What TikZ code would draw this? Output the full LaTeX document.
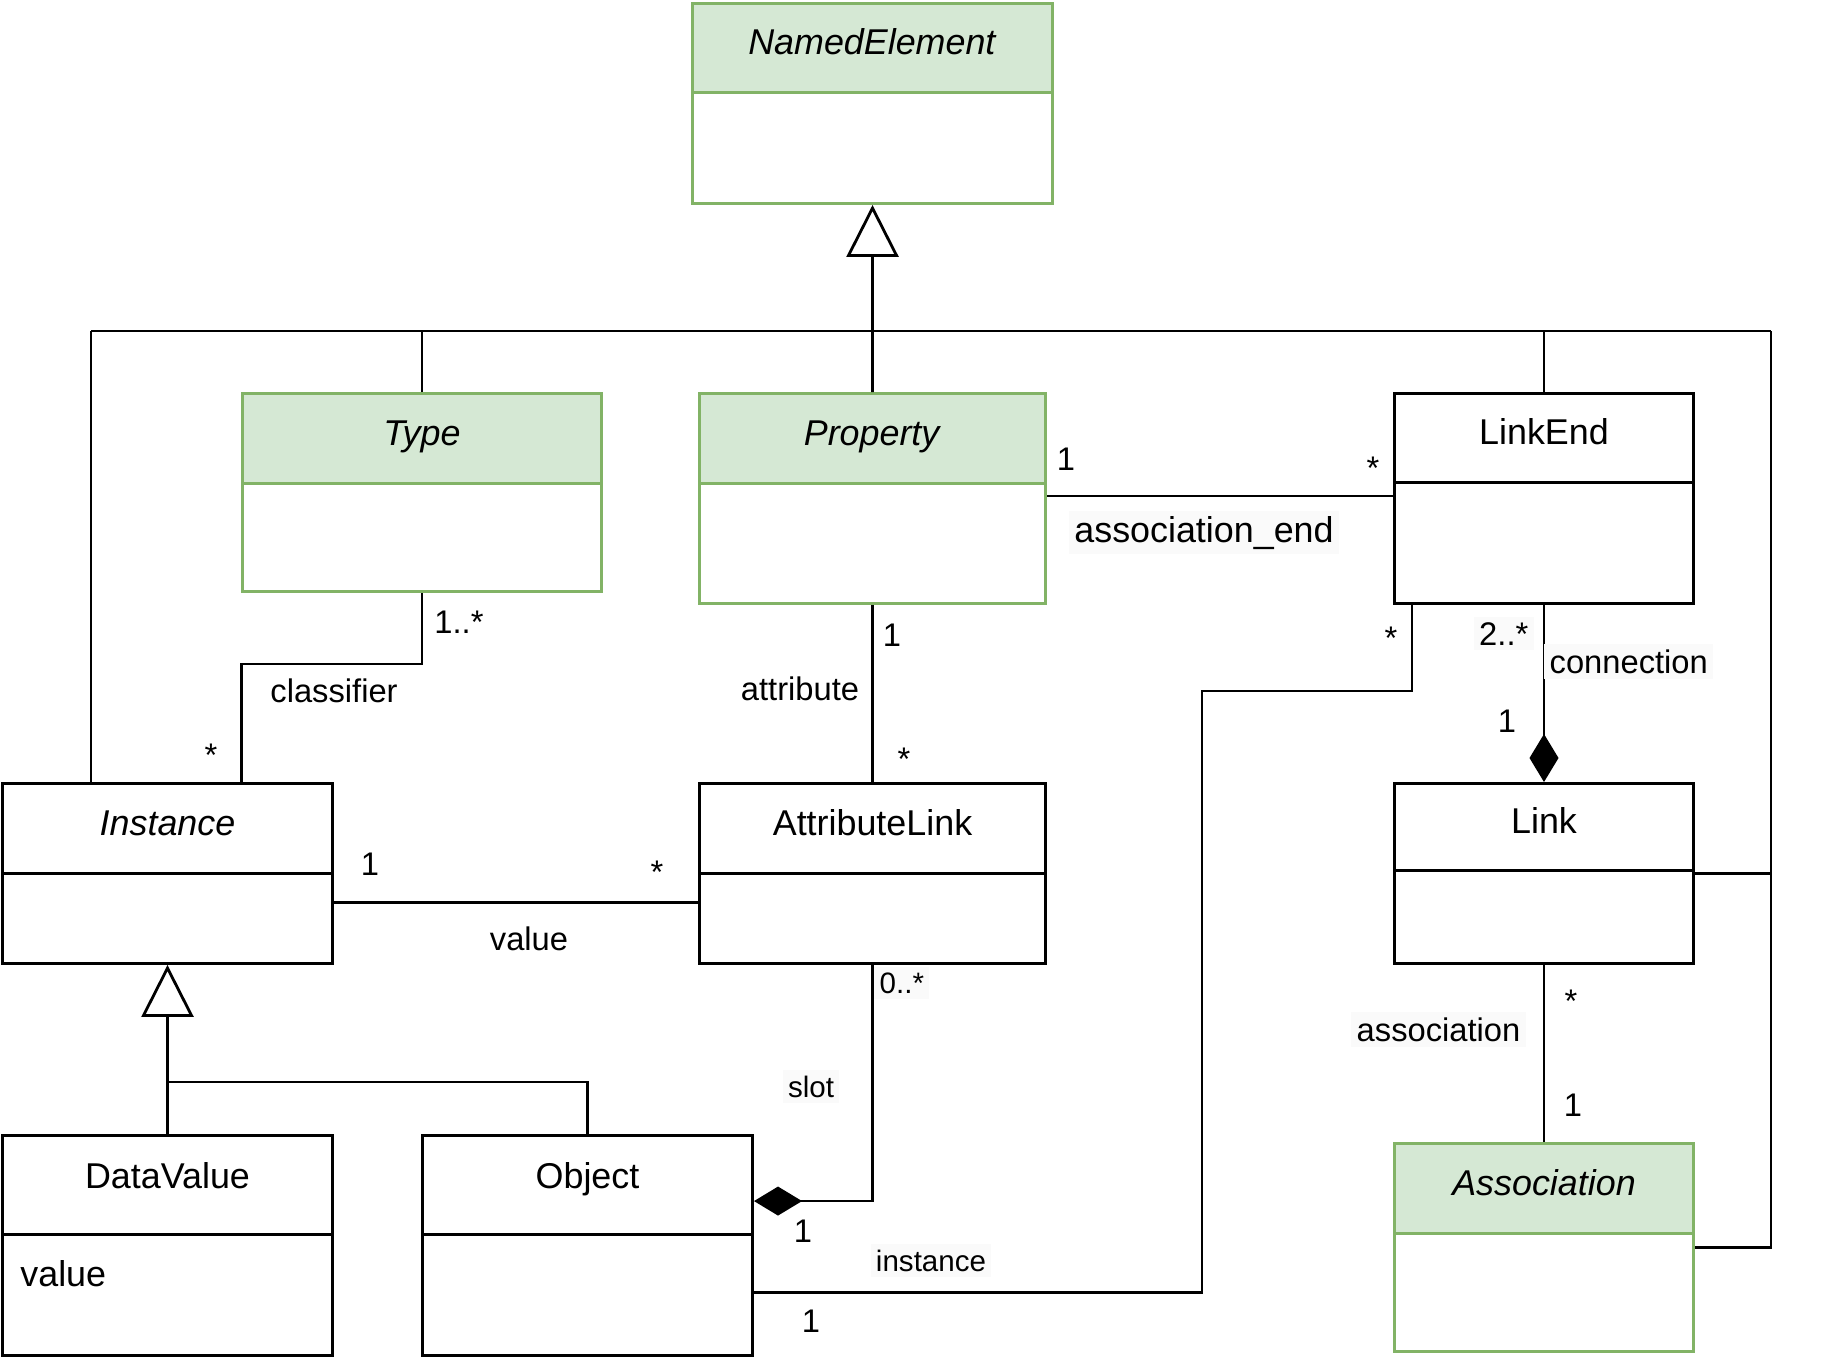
\documentclass[tikz,border=0pt]{standalone}
\usepackage{fontspec}
\setmainfont{Liberation Sans}
\usetikzlibrary{arrows.meta,positioning}

\definecolor{umlgreen}{HTML}{82B366}
\definecolor{umlfill}{HTML}{D5E8D4}
\newcommand{\umlname}{\fontsize{10.2}{12}\selectfont}
\newcommand{\umllabel}{\fontsize{9.3}{11}\selectfont}
\newcommand{\umlsmall}{\fontsize{8.4}{10}\selectfont}

\tikzset{
  classbox/.style={draw=black, fill=white, inner sep=0pt, anchor=north west},
  classhead/.style={draw=black, fill=white, inner sep=0pt, anchor=north,
    text height=0.3cm, text depth=0.16cm, font=\umlname},
  greenbox/.style={classbox, draw=umlgreen},
  greenhead/.style={classhead, draw=umlgreen, fill=umlfill},
  mult/.style={font=\umllabel, inner sep=0pt, anchor=base},
  role/.style={mult, fill=black!2, inner sep=1.5pt},
  smallrole/.style={role, font=\umlsmall},
  generalisation/.style={-{Triangle[open, length=0.52cm, width=0.52cm]}},
  composition/.style={-{Diamond[length=0.48cm, width=0.29cm]}},
}

\begin{document}
\begin{tikzpicture}[x=0.01cm, y=-0.01cm, line width=0.8pt]
  \useasboundingbox (0,0) rectangle (1827,1356);

  % Classes
  \node[greenbox, minimum width=3.6cm, minimum height=2cm] (ne) at (691,2) {};
  \node[greenhead, minimum width=3.6cm, minimum height=0.89cm] (ne-h) at (ne.north) {\textit{NamedElement}};

  \node[greenbox, minimum width=3.59cm, minimum height=1.98cm] (type) at (241,392) {};
  \node[greenhead, minimum width=3.59cm, minimum height=0.9cm] (type-h) at (type.north) {\textit{Type}};

  \node[greenbox, minimum width=3.46cm, minimum height=2.1cm] (prop) at (698,392) {};
  \node[greenhead, minimum width=3.46cm, minimum height=0.9cm] (prop-h) at (prop.north) {\textit{Property}};

  \node[classbox, minimum width=2.99cm, minimum height=2.1cm] (linkend) at (1393,392) {};
  \node[classhead, minimum width=2.99cm, minimum height=0.89cm] (linkend-h) at (linkend.north) {LinkEnd};

  \node[classbox, minimum width=3.3cm, minimum height=1.8cm] (inst) at (1,782) {};
  \node[classhead, minimum width=3.3cm, minimum height=0.9cm] (inst-h) at (inst.north) {\textit{Instance}};

  \node[classbox, minimum width=3.46cm, minimum height=1.8cm] (alink) at (698,782) {};
  \node[classhead, minimum width=3.46cm, minimum height=0.9cm] (alink-h) at (alink.north) {AttributeLink};

  \node[classbox, minimum width=2.99cm, minimum height=1.8cm] (link) at (1393,782) {};
  \node[classhead, minimum width=2.99cm, minimum height=0.87cm] (link-h) at (link.north) {Link};

  \node[classbox, minimum width=3.3cm, minimum height=2.2cm] (dval) at (1,1134) {};
  \node[classhead, text depth=0.23cm, minimum width=3.3cm, minimum height=0.99cm] (dval-h) at (dval.north) {DataValue};
  \node[font=\umlname, inner sep=0pt, anchor=base west] (dval-attr) at (19,1286) {value};

  \node[classbox, minimum width=3.3cm, minimum height=2.2cm] (obj) at (421,1134) {};
  \node[classhead, text depth=0.23cm, minimum width=3.3cm, minimum height=0.99cm] (obj-h) at (obj.north) {Object};

  \node[greenbox, minimum width=2.99cm, minimum height=2.08cm] (assoc) at (1393,1142) {};
  \node[greenhead, minimum width=2.99cm, minimum height=0.9cm] (assoc-h) at (assoc.north) {\textit{Association}};

  % Generalisations
  \coordinate (busl) at (91,331);
  \coordinate (busr) at (1771,331);
  \draw[generalisation] (prop.north) -- (ne.south);
  \draw (busl) -- (busr);
  \draw (busl) -- (busl |- inst.north);
  \draw (type.north) -- (type.north |- busl);
  \draw (linkend.north) -- (linkend.north |- busl);
  \draw (busr) |- (assoc.east);
  \draw (link.east) -- (link.east -| busr);

  \draw[generalisation] (dval.north) -- (inst.south);
  \draw (obj.north) |- ([yshift=0.52cm]dval.north);

  % Associations
  \draw ([xshift=2.4cm]inst.north west) |- ([yshift=-0.71cm]type.south) -- (type.south);
  \draw (prop.south) -- (alink.north);
  \draw ([yshift=-1.04cm]prop.north east) -- ([yshift=-1.04cm]linkend.north west);
  \draw ([yshift=-1.2cm]inst.north east) -- ([yshift=-1.2cm]alink.north west);
  \draw[composition] (linkend.south) -- (link.north);
  \coordinate (ibend) at (1202,691);
  \draw ([xshift=0.19cm]linkend.south west) |- (ibend) |- ([yshift=-1.58cm]obj.north east);
  \draw[composition] (alink.south) |- ([yshift=-0.67cm]obj.north east);
  \draw (link.south) -- (assoc.north);

  % Labels
  \node[mult, anchor=base west] (m-type) at (433,633) {1..*};
  \node[mult] (r-classifier) at (334,702) {classifier};
  \node[mult] (m-inst) at (211,766) {*};

  \node[mult] (m-prop) at (892,646) {1};
  \node[mult] (r-attribute) at (800,700) {attribute};
  \node[mult] (m-alink) at (904,770) {*};

  \node[mult] (m-prop2) at (1066,470) {1};
  \node[mult] (m-linkend) at (1373,479) {*};
  \node[role, font=\umlname] (r-assocend) at (1204,542) {association\_end};

  \node[mult] (m-val1) at (370,875) {1};
  \node[mult] (m-val2) at (657,883) {*};
  \node[mult] (r-value) at (529,950) {value};

  \node[mult] (m-linkend2) at (1391,649) {*};
  \node[role, anchor=base east] (m-conn) at (1535,645) {2..*};
  \node[role, anchor=base west] (r-connection) at (1543,673) {connection};
  \node[mult] (m-link) at (1507,732) {1};

  \node[role, anchor=base east] (r-association) at (1527,1041) {association};
  \node[mult] (m-link2) at (1571,1012) {*};
  \node[mult] (m-assoc) at (1573,1116) {1};

  \node[smallrole, anchor=base west] (m-slot) at (873,993) {0..*};
  \node[smallrole] (r-slot) at (811,1097) {slot};
  \node[mult] (m-obj) at (803,1242) {1};
  \node[smallrole] (r-instance) at (931,1271) {instance};
  \node[mult] (m-obj2) at (811,1332) {1};
\end{tikzpicture}
\end{document}
